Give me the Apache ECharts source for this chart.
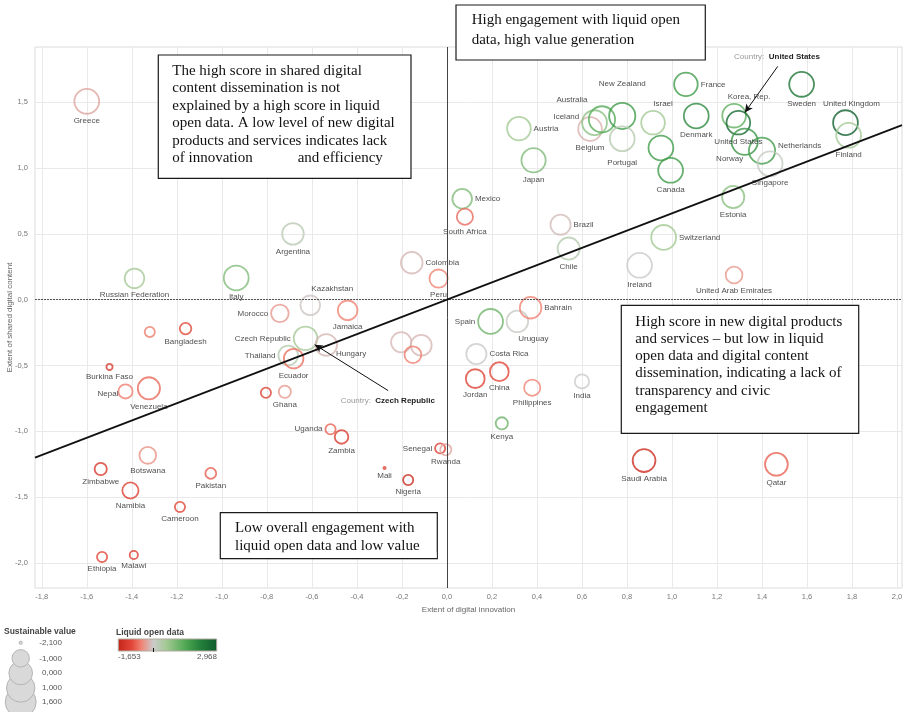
<!DOCTYPE html>
<html><head><meta charset="utf-8">
<script src="https://cdn.jsdelivr.net/npm/echarts@6/dist/echarts.min.js"></script>
<style>html,body{margin:0;padding:0;background:#fff}#c{width:905px;height:712px}</style>
</head><body><div id="c"></div>
<script>
// ---------- DATA ----------
const countries = ['Greece','Argentina','Russian Federation','Italy','Colombia','Peru','Kazakhstan','Morocco','Jamaica','Bangladesh','',
 'Czech Republic','Hungary','Thailand','Ecuador','Burkina Faso','Nepal','Venezuela','','Ghana','Uganda','Zambia','Senegal','Rwanda','Mali','Nigeria',
 'Botswana','Zimbabwe','Pakistan','Namibia','Cameroon','Ethiopia','Malawi','','','',
 'Spain','Uruguay','Bahrain','Costa Rica','Jordan','China','Philippines','India','Kenya','Saudi Arabia','Qatar',
 'Mexico','South Africa','Brazil','Chile','Ireland','Switzerland','United Arab Emirates','Estonia','Japan','Austria','Belgium','Iceland','Australia',
 'New Zealand','Portugal','Israel','','Canada','France','Denmark','Korea, Rep.','United States','Norway','Netherlands','Singapore','Sweden','United Kingdom','Finland'];
// Extent of digital innovation (x)
const innovation = [-1.60,-0.684,-1.388,-0.936,-0.156,-0.037,-0.607,-0.742,-0.441,-1.161,-1.32,
 -0.628,-0.536,-0.705,-0.681,-1.499,-1.428,-1.324,-0.804,-0.72,-0.517,-0.468,-0.03,-0.005,-0.277,-0.172,
 -1.329,-1.538,-1.049,-1.406,-1.186,-1.532,-1.391,-0.203,-0.114,-0.151,
 0.194,0.313,0.372,0.131,0.126,0.233,0.379,0.60,0.244,0.876,1.464,
 0.068,0.08,0.505,0.541,0.856,0.963,1.276,1.272,0.385,0.32,0.636,0.656,0.689,
 0.779,0.779,0.916,0.951,0.994,1.062,1.108,1.276,1.295,1.323,1.40,1.436,1.576,1.771,1.785];
// Extent of shared digital content (y)
const shared = [1.507,0.50,0.162,0.165,0.281,0.16,-0.043,-0.104,-0.081,-0.22,-0.245,
 -0.294,-0.344,-0.423,-0.448,-0.511,-0.697,-0.674,-0.707,-0.70,-0.985,-1.043,-1.13,-1.14,-1.279,-1.37,
 -1.183,-1.287,-1.32,-1.45,-1.575,-1.955,-1.94,-0.324,-0.347,-0.418,
 -0.165,-0.165,-0.061,-0.413,-0.60,-0.547,-0.669,-0.621,-0.94,-1.223,-1.251,
 0.767,0.63,0.57,0.388,0.261,0.473,0.187,0.78,1.059,1.30,1.297,1.345,1.37,
 1.396,1.223,1.345,1.153,0.983,1.636,1.396,1.398,1.345,1.20,1.132,1.033,1.636,1.345,1.249];
// Sustainable value (size)
const sustainable = [0.44,-0.18,-0.52,0.44,-0.18,-0.74,-0.52,-0.83,-0.52,-1.56,-1.69,
 0.20,-0.18,-0.52,-0.52,-1.96,-1.28,-0.07,-1.69,-1.50,-1.69,-1.35,-1.69,-1.60,-2.10,-1.69,
 -0.95,-1.50,-1.63,-1.03,-1.69,-1.69,-1.84,-0.42,-0.32,-0.95,
 0.44,-0.18,-0.18,-0.42,-0.65,-0.65,-1.03,-1.28,-1.50,0.04,0.04,
 -0.52,-1.03,-0.42,-0.07,0.44,0.44,-0.95,-0.07,0.32,0.20,0.20,0.44,0.74,
 0.74,0.44,0.20,0.44,0.44,0.20,0.44,0.20,0.20,0.74,0.74,0.44,0.44,0.44,0.44];
// Liquid open data (colour)
const liquid = [-0.30,0.25,0.55,0.95,-0.15,-0.55,-0.05,-0.40,-0.55,-1.00,-0.60,
 0.55,-0.15,0.30,-0.70,-1.20,-0.60,-0.75,-1.10,-0.40,-0.80,-1.20,-1.10,-0.30,-1.10,-1.50,
 -0.45,-1.25,-0.85,-1.10,-1.00,-1.00,-1.20,-0.15,-0.15,-0.60,
 1.15,0.05,-0.55,0.00,-1.10,-1.00,-0.55,0.00,1.15,-1.45,-0.80,
 0.95,-0.75,-0.10,0.30,0.00,0.60,-0.40,0.85,0.95,0.60,-0.20,0.85,1.40,
 1.70,0.30,0.60,1.70,1.70,1.70,2.00,1.30,2.60,1.80,1.70,0.10,2.40,2.80,0.55];
const xTicks = [-1.8,-1.6,-1.4,-1.2,-1.0,-0.8,-0.6,-0.4,-0.2,0.0,0.2,0.4,0.6,0.8,1.0,1.2,1.4,1.6,1.8,2.0];
const yTicks = [-2.0,-1.5,-1.0,-0.5,0.0,0.5,1.0,1.5];
const sizeTicks = [-2.1,-1.0,0.0,1.0,1.6];
const liquidMin = -1.653, liquidMax = 2.968;
const trendSlope = 0.656;
const xMin = -1.830, xMax = 2.022, yMin = -2.191, yMax = 1.920;
const usArrow = [[1.470,1.773],[1.324,1.423]];
const czArrow = [[-0.261,-0.691],[-0.587,-0.342]];
const usNote = [1.276,1.849];
const czNote = [-0.472,-0.765];

const box1 = ['The high score in shared digital','content dissemination is not','explained by a high score in liquid','open data. A low level of new digital','products and services indicates lack','of innovation            and efficiency'];
const box2 = ['High engagement with liquid open','data, high value generation'];
const box3 = ['High score in new digital products','and services \u2013 but low in liquid','open data and digital content','dissemination, indicating a lack of','transparency and civic','engagement'];
const box4 = ['Low overall engagement with','liquid open data and low value'];

// ---------- STYLE ----------
const labelPlace = {
 'Colombia':['right'],'Mexico':['right'],'Brazil':['right'],'Switzerland':['right'],'Austria':['right'],'France':['right'],
 'Netherlands':['right',0,-5],'Bahrain':['right'],'Costa Rica':['right'],'Hungary':['right',-4,9],
 'Morocco':['left'],'Czech Republic':['left'],'Thailand':['left'],'Nepal':['left',3,2],'Uganda':['left'],'Senegal':['left'],
 'Spain':['left'],'Iceland':['left',0,-6],
 'Australia':['top',-30,0],'New Zealand':['top',0,-12],'Israel':['top',10,0],'Korea, Rep.':['top',15,0],
 'United Kingdom':['top',6,0],'Kazakhstan':['top',22,0],
 'Norway':['bottom',-15,-3],'Uruguay':['bottom',16,0],'Portugal':['bottom',0,5]
};
const colorStops = [[-1.653,'#c42418'],[-1.0,'#e2473a'],[-0.55,'#f08576'],[0,'#cbcbcb'],[0.6,'#a3c994'],[1.5,'#4fa752'],[2.2,'#237f3a'],[2.968,'#0e5a2c']];
function liquidColor(v){
  for (let i=0;i<colorStops.length-1;i++){
    const a=colorStops[i], b=colorStops[i+1];
    if (v<=b[0] || i===colorStops.length-2){
      const t=Math.max(0,Math.min(1,(v-a[0])/(b[0]-a[0])));
      return echarts.color.lerp(t,[a[1],b[1]]);
    }
  }
}
const sizeOf = s => 15.5*Math.sqrt(Math.max(s+2.12,0.004));
const fmt1 = v => v.toFixed(1).replace('.',',');
const fmt3 = v => v.toFixed(3).replace('.',',');
const SANS = '"Liberation Sans", Arial, sans-serif';
const SERIF = '"Liberation Serif", "Times New Roman", serif';

const seriesData = countries.map((name,i)=>{
  const p = labelPlace[name] || ['bottom',0,0];
  return {
    name: name,
    value: [innovation[i], shared[i], sustainable[i], liquid[i]],
    itemStyle: {color:'rgba(0,0,0,0)', borderColor: liquidColor(liquid[i])},
    label: {show: !!name, position: p[0], offset: [p[1]||0, p[2]||0]}
  };
});

function box(x,y,w,h,tx,ty,lines,lh){
  return [
    {type:'rect', z:100, shape:{x:x,y:y,width:w,height:h}, style:{fill:'#fff', stroke:'#1a1a1a', lineWidth:1.2}},
    {type:'text', z:101, x:tx, y:ty, style:{text:lines.join('\n'), font:'15px '+SERIF, lineHeight:lh, fill:'#111',
      align:'left', verticalAlign:'top', textAlign:'left', textVerticalAlign:'top'}}
  ];
}

const graphics = [];
graphics.push(...box(158.3,55,252.7,123.3,172.3,62,box1,17.5));
graphics.push(...box(456,5,249.3,55,471.7,10,box2,20));
graphics.push(...box(621.3,305.3,237.4,128,635.3,313,box3,17.3));
graphics.push(...box(220.3,512.7,217,46,235,519.5,box4,17.7));
graphics.push({type:'rect', z:102, shape:{x:221,y:552.3,width:215.5,height:5.6}, style:{fill:'#fff'}});

// size legend
graphics.push({type:'text', z:100, x:4, y:632, style:{text:'Sustainable value', font:'bold 8.5px '+SANS, fill:'#444', verticalAlign:'middle', textVerticalAlign:'middle'}});
const sizeY = [642.7,658.3,673,688,702];
for (let i=sizeTicks.length-1;i>=0;i--){
  graphics.push({type:'circle', z:100+ (sizeTicks.length-i), shape:{cx:20.7, cy:sizeY[i], r:sizeOf(sizeTicks[i])/2+0.5},
    style:{fill:'#d9d9d9', stroke:'#b5b5b5', lineWidth:1}});
  graphics.push({type:'text', z:110, x:62, y:sizeY[i], style:{text:fmt3(sizeTicks[i]), font:'8px '+SANS, fill:'#555',
    align:'right', verticalAlign:'middle', textAlign:'right', textVerticalAlign:'middle'}});
}
// colour legend
graphics.push({type:'text', z:100, x:116, y:633, style:{text:'Liquid open data', font:'bold 8.5px '+SANS, fill:'#444', verticalAlign:'middle', textVerticalAlign:'middle'}});
graphics.push({type:'rect', z:100, shape:{x:118.3,y:639,width:98.4,height:12},
  style:{fill:{type:'linear',x:0,y:0,x2:1,y2:0,colorStops:colorStops.map(s=>({offset:(s[0]-liquidMin)/(liquidMax-liquidMin),color:s[1]}))},
  stroke:'#b0aaa0', lineWidth:1}});
const zeroX = 118.3 + 98.4*(0-liquidMin)/(liquidMax-liquidMin);
graphics.push({type:'line', z:101, shape:{x1:zeroX,y1:648,x2:zeroX,y2:652}, style:{stroke:'#111', lineWidth:1}});
graphics.push({type:'text', z:100, x:118, y:657, style:{text:fmt3(liquidMin), font:'8px '+SANS, fill:'#555', verticalAlign:'middle', textVerticalAlign:'middle'}});
graphics.push({type:'text', z:100, x:217, y:657, style:{text:fmt3(liquidMax), font:'8px '+SANS, fill:'#555', align:'right', textAlign:'right', verticalAlign:'middle', textVerticalAlign:'middle'}});

const chart = echarts.init(document.getElementById('c'));
chart.setOption({
  animation:false,
  backgroundColor:'#fff',
  textStyle:{fontFamily:SANS},
  grid:{left:35, right:3, top:47, bottom:124, show:true, borderColor:'#dcdcdc', borderWidth:1, containLabel:false, outerBoundsMode:'none'},
  xAxis:{type:'value', min:xMin, max:xMax,
    name:'Extent of digital innovation', nameLocation:'middle', nameGap:18, nameMoveOverlap:false,
    nameTextStyle:{fontSize:8, color:'#666'},
    axisLine:{show:false}, axisTick:{show:false, customValues:xTicks},
    axisLabel:{customValues:xTicks, formatter:fmt1, fontSize:7.5, color:'#777', margin:5},
    splitLine:{show:true, lineStyle:{color:'#e9e9e9', width:1}}},
  yAxis:{type:'value', min:yMin, max:yMax,
    name:'Extent of shared digital content', nameLocation:'middle', nameGap:21, nameRotate:90, nameMoveOverlap:false,
    nameTextStyle:{fontSize:8, color:'#666'},
    axisLine:{show:false}, axisTick:{show:false, customValues:yTicks},
    axisLabel:{customValues:yTicks, formatter:fmt1, fontSize:7.5, color:'#777', margin:7},
    splitLine:{show:true, lineStyle:{color:'#e9e9e9', width:1}}},
  series:[{
    type:'scatter', symbol:'circle',
    symbolSize: v => sizeOf(v[2]),
    data: seriesData,
    itemStyle:{borderWidth:1.8},
    label:{show:true, formatter:'{b}', fontSize:8, color:'#222', distance:2, fontFamily:SANS},
    emphasis:{disabled:true},
    markLine:{silent:true, symbol:['none','none'], label:{show:false}, animation:false,
      data:[
        [{coord:[xMin,0], lineStyle:{color:'#555', width:1.2, type:[2,1]}},{coord:[xMax,0]}],
        [{coord:[0,yMin], lineStyle:{color:'#444', width:1, type:'solid'}},{coord:[0,yMax]}],
        [{coord:[xMin,trendSlope*xMin], lineStyle:{color:'#111', width:1.8, type:'solid'}},{coord:[xMax,trendSlope*xMax]}],
        [{coord:usArrow[0], lineStyle:{color:'#111', width:1, type:'solid'}},{coord:usArrow[1], symbol:'arrow', symbolSize:[6,8]}],
        [{coord:czArrow[0], lineStyle:{color:'#111', width:1, type:'solid'}},{coord:czArrow[1], symbol:'arrow', symbolSize:[6,8]}]
      ]},
    markPoint:{silent:true, symbol:'circle', symbolSize:0, animation:false,
      label:{show:true, position:'right', distance:0,
        rich:{a:{fontSize:8, color:'#999', fontFamily:SANS}, b:{fontSize:8, color:'#222', fontWeight:'bold', fontFamily:SANS}}},
      data:[
        {coord:usNote, label:{formatter:'{a|Country:  }{b|United States}'}},
        {coord:czNote, label:{formatter:'{a|Country:  }{b|Czech Republic}'}}
      ]}
  }],
  graphic: graphics
});
</script>
</body></html>
